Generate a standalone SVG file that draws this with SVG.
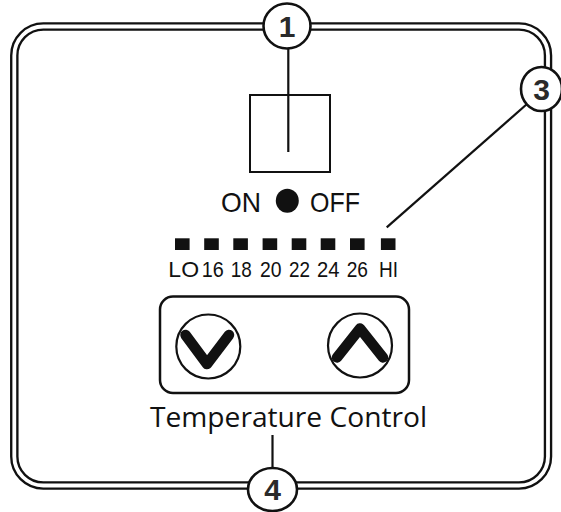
<svg xmlns="http://www.w3.org/2000/svg" width="561" height="512" viewBox="0 0 561 512">
<style>
.frame-o{fill:none;stroke:#111;stroke-width:8.5}
.frame-i{fill:none;stroke:#fff;stroke-width:3.8}
.line{fill:none;stroke:#111;stroke-width:2.2}
.callout{fill:#fff;stroke:#111;stroke-width:2.6}
.num{font-family:"Liberation Sans",Arial,sans-serif;font-weight:bold;font-size:30px;fill:#2a2a2a;text-anchor:middle}
.lbl{font-family:"Liberation Sans",Arial,sans-serif;font-size:22.5px;fill:#111;text-anchor:middle}
.big{font-family:"Liberation Sans",Arial,sans-serif;font-size:28px;fill:#111;text-anchor:middle}
.tc{font-family:"Open Sans","Liberation Sans",sans-serif;font-size:27px;fill:#111;text-anchor:middle}
.sq{fill:#111}
.btn{fill:#fff;stroke:#111;stroke-width:2.2}
.chev{fill:none;stroke:#111;stroke-width:10.5;stroke-linecap:round;stroke-linejoin:round}
</style>
<g id="frame">
<rect class="frame-o" x="14.3" y="26.5" width="533.7" height="459" rx="29"/>
<rect class="frame-i" x="14.3" y="26.5" width="533.7" height="459" rx="29"/>
</g>
<g id="connectors">
<line class="line" x1="288.3" y1="48" x2="288.3" y2="152"/>
<line class="line" x1="386.7" y1="227.3" x2="527" y2="104"/>
<line class="line" x1="272.5" y1="435" x2="272.5" y2="468"/>
</g>
<g id="switch">
<rect x="250" y="95" width="80" height="77" fill="none" stroke="#111" stroke-width="2"/>
</g>
<g id="onoff">
<text class="big" x="241" y="211.7" textLength="40" lengthAdjust="spacingAndGlyphs">ON</text>
<ellipse cx="287.3" cy="200.7" rx="11.5" ry="12" fill="#111"/>
<text class="big" x="335" y="211.7" textLength="50" lengthAdjust="spacingAndGlyphs">OFF</text>
</g>
<g id="scale">
<rect class="sq" x="175" y="238.3" width="14.6" height="11.7"/>
<rect class="sq" x="204.2" y="238.3" width="14.6" height="11.7"/>
<rect class="sq" x="233.3" y="238.3" width="14.6" height="11.7"/>
<rect class="sq" x="262.6" y="238.3" width="14.6" height="11.7"/>
<rect class="sq" x="291.7" y="238.3" width="14.6" height="11.7"/>
<rect class="sq" x="320.7" y="238.3" width="14.6" height="11.7"/>
<rect class="sq" x="350" y="238.3" width="14.6" height="11.7"/>
<rect class="sq" x="380.9" y="238.3" width="14.6" height="11.7"/>
<text class="lbl" x="183.7" y="277" textLength="30.7" lengthAdjust="spacingAndGlyphs">LO</text>
<text class="lbl" x="212.8" y="277" textLength="22" lengthAdjust="spacingAndGlyphs">16</text>
<text class="lbl" x="241.3" y="277" textLength="21" lengthAdjust="spacingAndGlyphs">18</text>
<text class="lbl" x="270.8" y="277" textLength="21.5" lengthAdjust="spacingAndGlyphs">20</text>
<text class="lbl" x="299.5" y="277" textLength="21" lengthAdjust="spacingAndGlyphs">22</text>
<text class="lbl" x="328.3" y="277" textLength="22.5" lengthAdjust="spacingAndGlyphs">24</text>
<text class="lbl" x="357.3" y="277" textLength="21.3" lengthAdjust="spacingAndGlyphs">26</text>
<text class="lbl" x="388.5" y="277" textLength="19" lengthAdjust="spacingAndGlyphs">HI</text>
</g>
<g id="panel">
<rect x="160" y="296.5" width="249" height="96.5" rx="13" fill="none" stroke="#111" stroke-width="2.5"/>
<circle class="btn" cx="208.3" cy="346.5" r="32"/>
<polyline class="chev" points="185.5,335 207,364 229,335"/>
<circle class="btn" cx="360" cy="345.5" r="32"/>
<polyline class="chev" points="337,357.5 360,328.5 383,357.5"/>
<text class="tc" x="288.5" y="426.7" textLength="277" lengthAdjust="spacingAndGlyphs">Temperature Control</text>
</g>
<g id="callout1">
<ellipse class="callout" cx="287" cy="26" rx="23.5" ry="22.5"/>
<text class="num" x="287" y="36.5">1</text>
</g>
<g id="callout3">
<ellipse class="callout" cx="541.5" cy="89" rx="20.5" ry="22"/>
<text class="num" x="541.5" y="99.5">3</text>
</g>
<g id="callout4">
<ellipse class="callout" cx="272.5" cy="489.5" rx="24.5" ry="21.5"/>
<text class="num" x="272.5" y="500">4</text>
</g>
</svg>
